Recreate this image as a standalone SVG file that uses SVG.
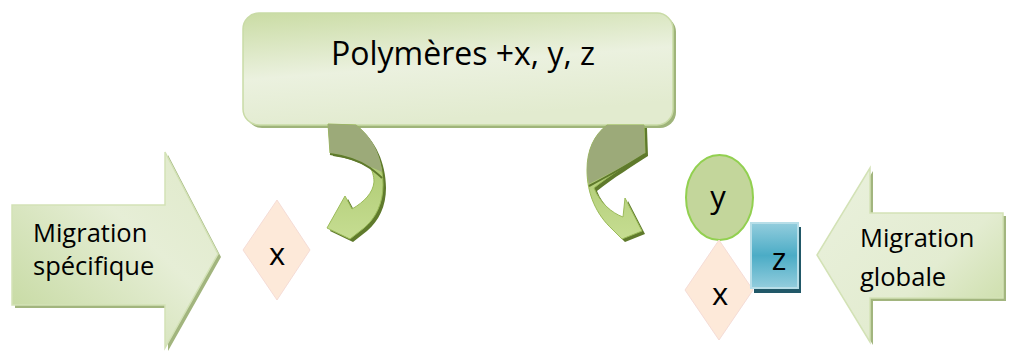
<svg xmlns="http://www.w3.org/2000/svg" width="1012" height="358" viewBox="0 0 1012 358">
<style>
text{font-family:"Open Sans","Liberation Sans",sans-serif;fill:#000}
.lbl{font-size:25.5px}
.big{font-size:32px}
.let{font-size:31px;text-anchor:middle}
.shadow{fill:#a2b57e}
.cshadow{fill:#5f7a2c}
.carrow{fill:url(#gCurve);stroke:#9bbb59;stroke-width:1}
.back{fill:#9caa79}
.twist{fill:none;stroke:#5f7a2c;stroke-width:2}
.dia{fill:#fde9d9;stroke:#f5dcd6;stroke-width:1}
</style>
<defs>
<linearGradient id="gBox" x1="0" y1="0" x2="0.3" y2="1">
<stop offset="0" stop-color="#cadca4"/>
<stop offset="0.55" stop-color="#ebf1df"/>
<stop offset="1" stop-color="#e2ebcf"/>
</linearGradient>
<linearGradient id="gLeft" x1="0" y1="1" x2="1" y2="0">
<stop offset="0" stop-color="#c2d79b"/>
<stop offset="0.6" stop-color="#e6eed6"/>
<stop offset="1" stop-color="#dfe9c9"/>
</linearGradient>
<linearGradient id="gRight" x1="0" y1="0" x2="1" y2="1">
<stop offset="0" stop-color="#eaf1dd"/>
<stop offset="0.6" stop-color="#e3ecd1"/>
<stop offset="1" stop-color="#c6da9f"/>
</linearGradient>
<linearGradient id="gCurve" x1="0" y1="0" x2="0" y2="1">
<stop offset="0" stop-color="#a3c163"/>
<stop offset="1" stop-color="#c6dd92"/>
</linearGradient>
<linearGradient id="gZ" x1="0" y1="0" x2="0" y2="1">
<stop offset="0" stop-color="#93cddd"/>
<stop offset="0.5" stop-color="#4bacc6"/>
<stop offset="1" stop-color="#93cddd"/>
</linearGradient>
</defs>

<g id="top-box">
<rect x="246" y="16" width="430" height="112" rx="16" fill="#9fb47a"/>
<rect x="243" y="13" width="430" height="112" rx="16" fill="url(#gBox)" stroke="#c9dba6" stroke-width="1.5"/>
<text class="big" x="463" y="65" text-anchor="middle">Polymères +x, y, z</text>
</g>

<g id="connectors">
<g id="curve-left">
<path class="cshadow" transform="translate(3,3)" d="M 328,124 L 356,125 C 372,137 383,160 383,185 C 383,203 376,218 364,228 L 350,239 L 327,228 L 345,196 L 352,209 C 364,202 373,193 374,182 C 374,176 372,170 370,167 C 360,160 345,155 330,153 Z"/>
<path class="carrow" d="M 328,124 L 356,125 C 372,137 383,160 383,185 C 383,203 376,218 364,228 L 350,239 L 327,228 L 345,196 L 352,209 C 364,202 373,193 374,182 C 374,176 372,170 370,167 C 360,160 345,155 330,153 Z"/>
<path class="back" d="M 328,124 L 356,125 C 371,136 380,152 382,172 C 378,170 374,168 370,167 C 360,160 345,155 330,153 Z"/>
<path class="twist" d="M 330,154 C 345,156 360,161 370,168 C 374,171 378,174 382,178"/>
</g>
<g id="curve-right">
<path class="cshadow" transform="translate(3,3)" d="M 644,125 L 607,125 C 594,135 587,150 587,170 C 587,195 597,215 612,229 L 622,239 L 642,231 L 625,198 L 623,217 C 612,213 600,203 594,188 C 610,175 630,163 645,153 Z"/>
<path class="carrow" d="M 644,125 L 607,125 C 594,135 587,150 587,170 C 587,195 597,215 612,229 L 622,239 L 642,231 L 625,198 L 623,217 C 612,213 600,203 594,188 C 610,175 630,163 645,153 Z"/>
<path class="back" d="M 644,125 L 607,125 C 594,135 587,150 587,170 C 587,175 588,180 589,184 C 605,176 628,164 645,153 Z"/>
<path class="twist" d="M 589,186 C 606,177 628,165 645,154"/>
</g>
</g>

<g id="arrow-specifique">
<polygon class="shadow" points="15,208 168,208 168,155 221,257 168,351 168,308 15,308"/>
<polygon points="12,205 165,205 165,152 218,254 165,348 165,305 12,305" fill="url(#gLeft)" stroke="#d3e2b6" stroke-width="1.5"/>
<text class="lbl" x="33" y="242">Migration</text>
<text class="lbl" x="33" y="275">spécifique</text>
</g>

<g id="x-left">
<polygon class="dia" points="277,200 310,250 277,300 243,250"/>
<text class="let" x="277" y="265">x</text>
</g>

<g id="y-node">
<ellipse cx="719.5" cy="197.5" rx="33.5" ry="42.5" fill="#c3d69b" stroke="#92d050" stroke-width="2"/>
<text class="let" x="718" y="208">y</text>
</g>

<g id="x-right">
<polygon class="dia" points="719,240 753,290 719,340 685,290"/>
<text class="let" x="720" y="305">x</text>
</g>

<g id="z-node">
<rect x="754" y="227" width="47" height="66" fill="#215868"/>
<rect x="751" y="223" width="47" height="65" fill="url(#gZ)" stroke="#b7dee8" stroke-width="2"/>
<text class="let" x="779" y="270">z</text>
</g>

<g id="arrow-globale">
<polygon class="shadow" points="1006,216 873,216 873,171 820,258 873,345 873,301 1006,301"/>
<polygon points="1003,213 870,213 870,168 817,255 870,342 870,298 1003,298" fill="url(#gRight)" stroke="#d3e2b6" stroke-width="1.5"/>
<text class="lbl" x="860" y="247">Migration</text>
<text class="lbl" x="860" y="286">globale</text>
</g>
</svg>
